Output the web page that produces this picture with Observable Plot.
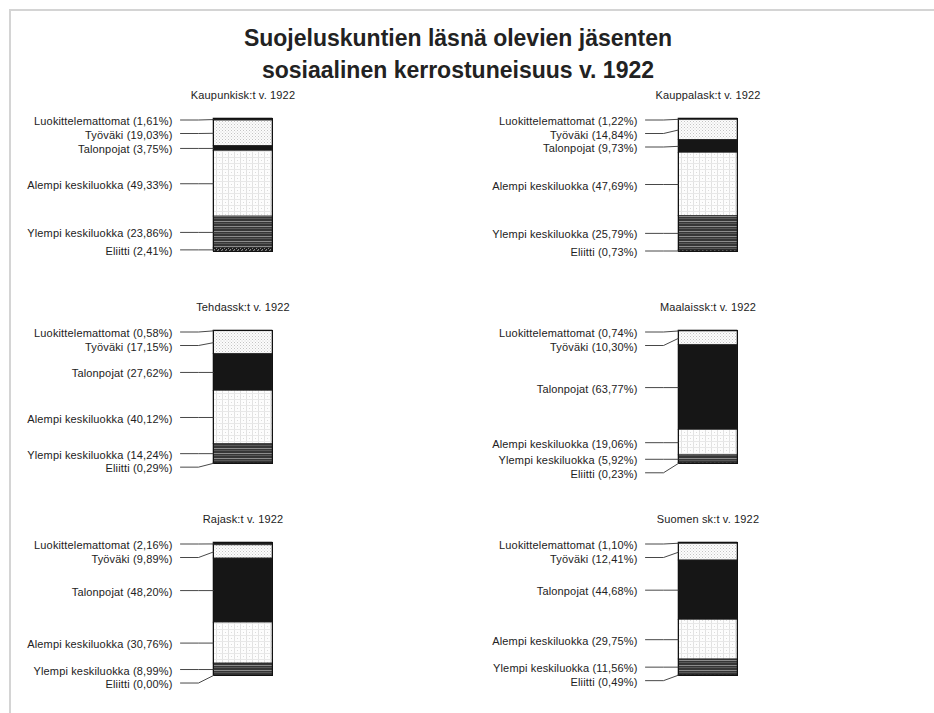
<!DOCTYPE html>
<html><head><meta charset="utf-8">
<script src="https://cdn.jsdelivr.net/npm/d3@7"></script>
<script src="https://cdn.jsdelivr.net/npm/@observablehq/plot@0.6"></script>
<style>
body{margin:0;background:#fff;}
#page{position:relative;width:934px;height:713px;overflow:hidden;background:#fff;font-family:"Liberation Sans",Arial,sans-serif;}
#frame{position:absolute;left:9px;top:9px;right:0;bottom:0;border-top:2px solid #d4d4d4;border-left:2px solid #d4d4d4;pointer-events:none;}
#title{position:relative;height:85px;width:916px;box-sizing:border-box;padding-top:22px;text-align:center;font-weight:bold;font-size:23px;line-height:32px;color:#222;}
#chart{position:relative;}
#chart text{letter-spacing:0.15px;}
</style></head>
<body><div id="page"><div id="frame"></div><div id="title">Suojeluskuntien läsnä olevien jäsenten<br>sosiaalinen kerrostuneisuus v. 1922</div><div id="chart"></div></div>
<script>
const categories = ["Luokittelemattomat", "Työväki", "Talonpojat", "Alempi keskiluokka", "Ylempi keskiluokka", "Eliitti"];
const panelTitles = ["Kaupunkisk:t v. 1922", "Kauppalask:t v. 1922", "Tehdassk:t v. 1922", "Maalaissk:t v. 1922", "Rajask:t v. 1922", "Suomen sk:t v. 1922"];
const kaupunki = [1.61, 19.03, 3.75, 49.33, 23.86, 2.41];
const kauppala = [1.22, 14.84, 9.73, 47.69, 25.79, 0.73];
const tehdas   = [0.58, 17.15, 27.62, 40.12, 14.24, 0.29];
const maalais  = [0.74, 10.30, 63.77, 19.06, 5.92, 0.23];
const raja     = [2.16, 9.89, 48.20, 30.76, 8.99, 0.00];
const suomi    = [1.10, 12.41, 44.68, 29.75, 11.56, 0.49];
const panelValues = [kaupunki, kauppala, tehdas, maalais, raja, suomi];

// layout
const W = 934, H = 628;
const BAR_W = 59, COL_STEP = 465, BAR_H = 133, ROW_STEP = 212, LEFT = 213, TOP = 33;
const pxPerUnit = BAR_H / 100;
const GAP = 13.5;

const segs = [], labels = [], leaders = [], panels = [];
panelTitles.forEach((name, p) => {
  const col = p % 2, row = Math.floor(p / 2);
  panels.push({name, col, row});
  let cum = 0, prev = -Infinity;
  panelValues[p].forEach((v, i) => {
    const cat = categories[i];
    const top = 100 - cum, bottom = 100 - cum - v, mid = 100 - cum - v / 2;
    segs.push({col, row, cat, top, bottom});
    const dMid = (cum + v / 2) * pxPerUnit;
    const d = Math.max(dMid, prev + GAP, 1.5);
    prev = d;
    const ly = 100 - d / pxPerUnit;
    labels.push({col, row, ly, text: `${cat} (${v.toFixed(2).replace(".", ",")}%)`});
    const id = p + "-" + i;
    leaders.push({id, col, row, x: -33 / BAR_W, y: ly}, {id, col, row, x: -15 / BAR_W, y: ly}, {id, col, row, x: 0, y: mid});
    cum += v;
  });
});

const svg = Plot.plot({
  width: W, height: H,
  marginLeft: LEFT, marginRight: W - LEFT - (COL_STEP + BAR_W),
  marginTop: TOP, marginBottom: H - TOP - (2 * ROW_STEP + BAR_H),
  fx: {domain: [0, 1], paddingInner: 1 - BAR_W / COL_STEP, paddingOuter: 0, round: false, axis: null},
  fy: {domain: [0, 1, 2], paddingInner: 1 - BAR_H / ROW_STEP, paddingOuter: 0, round: false, axis: null},
  x: {domain: [0, 1], axis: null},
  y: {domain: [0, 100], axis: null},
  color: {type: "ordinal", domain: categories, range: categories.map((c, i) => `url(#pat${i})`)},
  style: {fontFamily: "'Liberation Sans', Arial, sans-serif", fontSize: "11px", color: "#222", background: "transparent", overflow: "visible"},
  marks: [
    Plot.barY(segs, {fx: "col", fy: "row", y1: "bottom", y2: "top", fill: "cat", stroke: "#222", strokeWidth: 0.6}),
    Plot.frame({stroke: "#111", strokeWidth: 1}),
    Plot.line(leaders, {fx: "col", fy: "row", x: "x", y: "y", z: "id", stroke: "#333", strokeWidth: 0.9}),
    Plot.text(labels, {fx: "col", fy: "row", y: "ly", text: "text", frameAnchor: "left", textAnchor: "end", dx: -41, dy: 1.5, fill: "#222", fontSize: 11}),
    Plot.text(panels, {fx: "col", fy: "row", text: "name", frameAnchor: "top", dy: -27, fill: "#222", fontSize: 11})
  ]
});

d3.select(svg).insert("defs", ":first-child").html(`
<pattern id="pat0" width="4" height="4" patternUnits="userSpaceOnUse"><rect width="4" height="4" fill="#1c1c1c"/></pattern>
<pattern id="pat1" width="3" height="3" patternUnits="userSpaceOnUse"><rect width="3" height="3" fill="#fcfcfc"/><rect x="0" y="0" width="1" height="1" fill="#c4c4c4"/><rect x="1.5" y="1.5" width="1" height="1" fill="#d2d2d2"/></pattern>
<pattern id="pat2" width="4" height="4" patternUnits="userSpaceOnUse"><rect width="4" height="4" fill="#161616"/></pattern>
<pattern id="pat3" width="6" height="6" patternUnits="userSpaceOnUse"><rect width="6" height="6" fill="#fdfdfd"/><rect x="0" y="0" width="1" height="6" fill="#e2e2e2"/><rect x="0" y="0" width="6" height="1" fill="#e8e8e8"/><rect x="3" y="3" width="1" height="1" fill="#dcdcdc"/></pattern>
<pattern id="pat4" width="6" height="5" patternUnits="userSpaceOnUse"><rect width="6" height="5" fill="#363636"/><rect x="0" y="1" width="6" height="1" fill="#8c8c8c"/><rect x="0" y="3" width="6" height="1" fill="#585858"/></pattern>
<pattern id="pat5" width="4" height="4" patternUnits="userSpaceOnUse"><rect width="4" height="4" fill="#1e1e1e"/><path d="M0.5,3.5 L2.5,0.5" stroke="#fff" stroke-width="1"/></pattern>
`);

document.getElementById("chart").appendChild(svg);
</script>
</body></html>
